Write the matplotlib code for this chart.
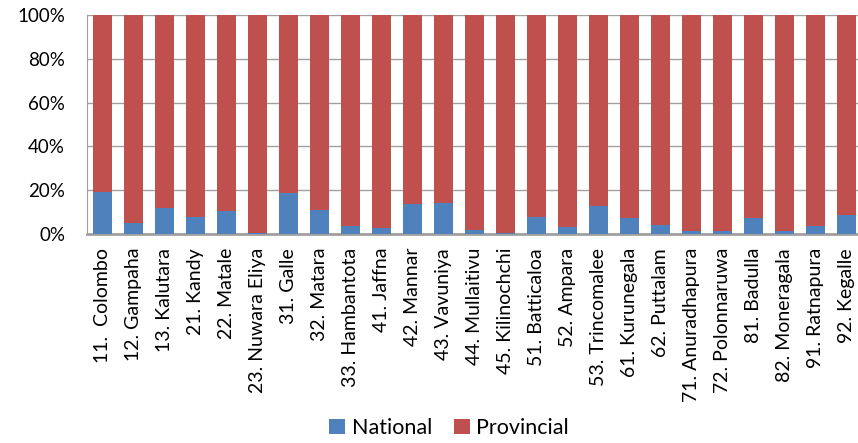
import matplotlib.pyplot as plt
from matplotlib.ticker import PercentFormatter

districts = ['11.  Colombo', '12. Gampaha', '13. Kalutara', '21. Kandy', '22. Matale',
             '23. Nuwara Eliya', '31. Galle', '32. Matara', '33. Hambantota', '41. Jaffna',
             '42. Mannar', '43. Vavuniya', '44. Mullaitivu', '45. Kilinochchi', '51. Batticaloa',
             '52. Ampara', '53. Trincomalee', '61. Kurunegala', '62. Puttalam', '71. Anuradhapura',
             '72. Polonnaruwa', '81. Badulla', '82. Moneragala', '91. Ratnapura', '92. Kegalle']
national = [19.1, 4.9, 12.0, 7.7, 10.6, 0.3, 18.8, 11.1, 3.8, 2.6,
            13.8, 14.3, 2.0, 0.3, 7.7, 3.4, 12.9, 7.5, 4.3, 1.5,
            1.2, 7.1, 1.5, 3.5, 8.6]
provincial = [100 - v for v in national]

plt.rcParams['font.family'] = ['Lato', 'DejaVu Sans']

fig = plt.figure(figsize=(8.58, 4.43), dpi=100)
ax = fig.add_axes([87.3 / 858, 209 / 443, 775 / 858, 219 / 443])

x = range(len(districts))
ax.bar(x, national, width=0.62, color='#4F81BD', label='National', zorder=3)
ax.bar(x, provincial, width=0.62, bottom=national, color='#C0504D', label='Provincial', zorder=3)

ax.set_xlim(-0.5, len(districts) - 0.5)
ax.set_ylim(0, 100)
ax.set_yticks([0, 20, 40, 60, 80, 100])
ax.yaxis.set_major_formatter(PercentFormatter(decimals=0))
ax.grid(axis='y', color='#A0A0A0', linewidth=1, zorder=0)
ax.set_xticks(list(x))
ax.set_xticklabels(districts, rotation=90, fontsize=14)
ax.tick_params(axis='y', labelsize=13.5, length=0, pad=16)
ax.tick_params(axis='x', length=0, pad=10)

for s in ['top', 'right']:
    ax.spines[s].set_visible(False)
ax.spines['left'].set_color('#A0A0A0')
ax.spines['bottom'].set_color('#A0A0A0')
ax.spines['bottom'].set_linewidth(2)

fig.legend(loc='center', bbox_to_anchor=(449 / 858, 1 - 428 / 443), ncol=2, frameon=False,
           fontsize=15.5, handlelength=0.75, handleheight=0.75, handletextpad=0.3, columnspacing=1.0)

fig.savefig('out.png', dpi=100)
